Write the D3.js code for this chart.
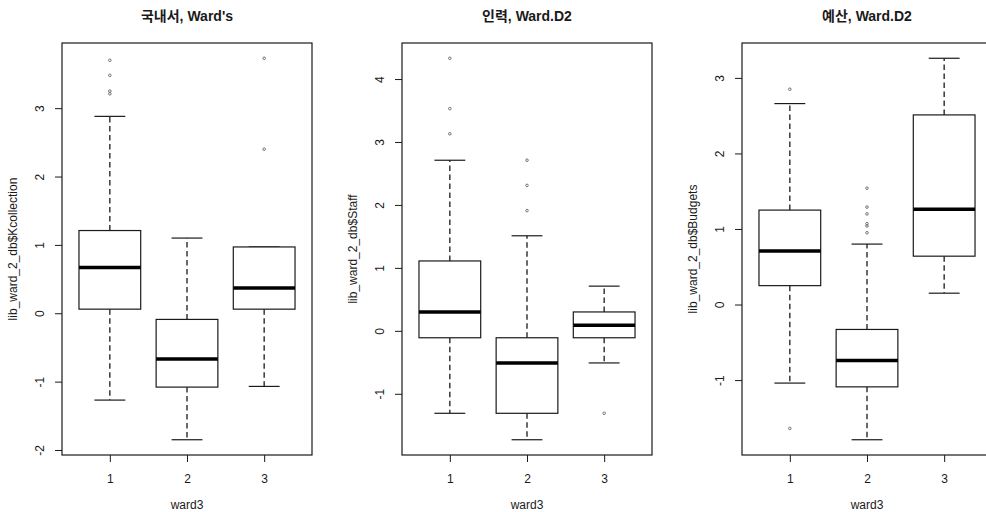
<!DOCTYPE html>
<html lang="ko">
<head>
<meta charset="UTF-8">
<title>Ward clusters boxplots</title>
<script src="https://d3js.org/d3.v7.min.js"></script>
<style>
  body { margin: 0; background: #fff; }
  svg { display: block; font-family: "Liberation Sans", Arial, "Noto Sans CJK KR", sans-serif; }
</style>
</head>
<body>
<svg id="chart" width="986" height="512"></svg>
<script>
const groups = [1, 2, 3];
const titles = ["국내서, Ward's", "인력, Ward.D2", "예산, Ward.D2"];
const yLabels = ["lib_ward_2_db$Kcollection", "lib_ward_2_db$Staff", "lib_ward_2_db$Budgets"];
const xLabel = "ward3";
const yTicks = [[-2, -1, 0, 1, 2, 3], [-1, 0, 1, 2, 3, 4], [-1, 0, 1, 2, 3]];

// [lower whisker, Q1, median, Q3, upper whisker] for each group
const kcollStats = [
  [-1.27, 0.06, 0.67, 1.21, 2.88],
  [-1.85, -1.08, -0.67, -0.09, 1.10],
  [-1.07, 0.06, 0.37, 0.97, 0.97]
];
const kcollOutliers = [[3.70, 3.48, 3.25, 3.21], [], [3.73, 2.40]];

const staffStats = [
  [-1.31, -0.11, 0.30, 1.11, 2.71],
  [-1.73, -1.31, -0.51, -0.11, 1.51],
  [-0.51, -0.11, 0.09, 0.30, 0.71]
];
const staffOutliers = [[4.33, 3.53, 3.13], [2.71, 2.31, 1.91], [-1.31]];

const budgetStats = [
  [-1.04, 0.25, 0.71, 1.25, 2.66],
  [-1.79, -1.09, -0.74, -0.33, 0.80],
  [0.15, 0.64, 1.26, 2.51, 3.26]
];
const budgetOutliers = [[2.85, -1.64], [1.54, 1.29, 1.20, 1.07, 1.04, 0.95], []];

const panels = [
  { stats: kcollStats, outliers: kcollOutliers },
  { stats: staffStats, outliers: staffOutliers },
  { stats: budgetStats, outliers: budgetOutliers }
];

const svg = d3.select("#chart");
const ink = "#1a1a1a";
const plotTop = 43, plotBottom = 455, plotW = 250;

panels.forEach((p, i) => {
  const left = 62 + 340 * i, right = left + plotW;
  const g = svg.append("g");

  // R style ranges: 4% padding
  const all = p.stats.flat().concat(p.outliers.flat());
  const [lo, hi] = d3.extent(all);
  const pad = (hi - lo) * 0.04;
  const y = d3.scaleLinear().domain([lo - pad, hi + pad]).range([plotBottom, plotTop]);
  const x = d3.scaleLinear().domain([0.38, 3.62]).range([left, right]);
  const bw = x(1.4) - x(1);   // half of box width (0.8)
  const cw = bw / 2;

  groups.forEach((grp, j) => {
    const [wl, q1, med, q3, wh] = p.stats[j];
    const cx = x(grp);

    g.append("line").attr("x1", cx).attr("x2", cx).attr("y1", y(q3)).attr("y2", y(wh))
      .attr("stroke", ink).attr("stroke-width", 1.3).attr("stroke-dasharray", "5.5,3.5");
    g.append("line").attr("x1", cx).attr("x2", cx).attr("y1", y(q1)).attr("y2", y(wl))
      .attr("stroke", ink).attr("stroke-width", 1.3).attr("stroke-dasharray", "5.5,3.5");
    [wl, wh].forEach(v => {
      g.append("line").attr("x1", cx - cw).attr("x2", cx + cw).attr("y1", y(v)).attr("y2", y(v))
        .attr("stroke", ink).attr("stroke-width", 1.2);
    });
    g.append("rect").attr("x", cx - bw).attr("width", bw * 2)
      .attr("y", y(q3)).attr("height", y(q1) - y(q3))
      .attr("fill", "#fff").attr("stroke", ink).attr("stroke-width", 1.2);
    g.append("line").attr("x1", cx - bw).attr("x2", cx + bw).attr("y1", y(med)).attr("y2", y(med))
      .attr("stroke", "#000").attr("stroke-width", 3.5);

    g.selectAll(null).data(p.outliers[j]).join("circle")
      .attr("cx", cx).attr("cy", d => y(d)).attr("r", 1.3)
      .attr("fill", "none").attr("stroke", "#666").attr("stroke-width", 0.9);
  });

  // frame
  g.append("rect").attr("x", left).attr("y", plotTop).attr("width", plotW).attr("height", plotBottom - plotTop)
    .attr("fill", "none").attr("stroke", ink).attr("stroke-width", 1.2);

  const ya = g.append("g").attr("transform", `translate(${left},0)`)
    .call(d3.axisLeft(y).tickValues(yTicks[i]).tickSize(7).tickFormat(d => String(d)));
  ya.select(".domain").remove();
  ya.selectAll("line").attr("stroke", ink);
  ya.selectAll("text")
    .attr("x", null).attr("dy", null)
    .attr("text-anchor", "middle")
    .attr("transform", "translate(-18,0) rotate(-90)")
    .attr("font-size", 12).attr("fill", ink);
  ya.attr("font-family", null).attr("font-size", null);

  const xa = g.append("g").attr("transform", `translate(0,${plotBottom})`)
    .call(d3.axisBottom(x).tickValues(groups).tickSize(7).tickFormat(d => String(d)));
  xa.select(".domain").remove();
  xa.selectAll("line").attr("stroke", ink);
  xa.selectAll("text").attr("y", 28).attr("dy", null)
    .attr("font-size", 12).attr("fill", ink);
  xa.attr("font-family", null).attr("font-size", null);

  const cxp = (left + right) / 2;
  g.append("text").attr("x", cxp).attr("y", 21).attr("text-anchor", "middle")
    .attr("font-size", 14).attr("font-weight", "bold").attr("fill", ink).text(titles[i]);
  g.append("text").attr("x", cxp).attr("y", 509).attr("text-anchor", "middle")
    .attr("font-size", 12).attr("fill", ink).text(xLabel);
  g.append("text").attr("transform", `translate(${left - 45},${(plotTop + plotBottom) / 2}) rotate(-90)`)
    .attr("text-anchor", "middle").attr("font-size", 12).attr("fill", ink).text(yLabels[i]);
});
</script>
</body>
</html>
